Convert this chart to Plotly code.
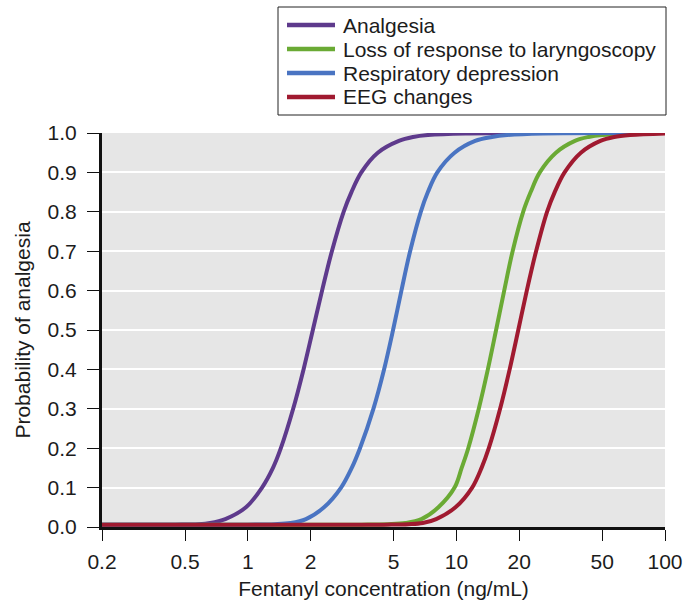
import plotly.graph_objects as go

# ---- data ----
series_names = ["Analgesia", "Loss of response to laryngoscopy",
                "Respiratory depression", "EEG changes"]

analgesia_x = [0.2, 0.45, 0.58, 0.66, 0.78, 0.98, 1.17, 1.32, 1.44, 1.65, 1.85,
               2.05, 2.27, 2.53, 2.88, 3.14, 3.5, 4.2, 5.3, 6.2, 7.3, 11, 100]
analgesia_y = [0.006, 0.006, 0.007, 0.01, 0.02, 0.05, 0.1, 0.15, 0.2, 0.3, 0.4,
               0.5, 0.6, 0.7, 0.8, 0.85, 0.9, 0.95, 0.98, 0.99, 0.995, 0.999, 1.0]

laryngoscopy_x = [0.2, 3.5, 4.7, 5.7, 6.8, 8.2, 9.8, 10.6, 11.4, 12.8, 14.15, 15.5,
                  16.95, 18.6, 20.9, 22.7, 25.1, 30, 37, 43, 50, 72, 100]
laryngoscopy_y = [0.006, 0.006, 0.007, 0.01, 0.02, 0.05, 0.1, 0.15, 0.2, 0.3, 0.4,
                  0.5, 0.6, 0.7, 0.8, 0.85, 0.9, 0.95, 0.98, 0.99, 0.995, 0.999, 1.0]

respiratory_x = [0.2, 1.0, 1.35, 1.6, 1.9, 2.32, 2.8, 3.15, 3.45, 4.0, 4.5,
                 4.97, 5.45, 6.0, 6.75, 7.3, 8.1, 9.8, 12.3, 14.8, 17.5, 26, 100]
respiratory_y = [0.006, 0.006, 0.007, 0.01, 0.02, 0.05, 0.1, 0.15, 0.2, 0.3, 0.4,
                 0.5, 0.6, 0.7, 0.8, 0.85, 0.9, 0.95, 0.98, 0.99, 0.995, 0.999, 1.0]

eeg_x = [0.2, 4.5, 5.9, 6.9, 8.0, 9.9, 11.9, 13.2, 14.3, 16.2, 18.0, 19.8, 21.75,
         24.1, 27.2, 29.6, 33, 39.5, 49, 57, 68, 100]
eeg_y = [0.006, 0.006, 0.007, 0.01, 0.02, 0.05, 0.1, 0.15, 0.2, 0.3, 0.4, 0.5,
         0.6, 0.7, 0.8, 0.85, 0.9, 0.95, 0.98, 0.99, 0.995, 0.999]

x_tick_vals = [0.2, 0.5, 1, 2, 5, 10, 20, 50, 100]
x_tick_text = ["0.2", "0.5", "1", "2", "5", "10", "20", "50", "100"]
y_tick_vals = [0.0, 0.1, 0.2, 0.3, 0.4, 0.5, 0.6, 0.7, 0.8, 0.9, 1.0]
y_tick_text = ["0.0", "0.1", "0.2", "0.3", "0.4", "0.5", "0.6", "0.7", "0.8", "0.9", "1.0"]

colors = ["#5E3A8C", "#6AAA34", "#4A74C2", "#A01A30"]

FONT = "Liberation Sans, Arial, sans-serif"
TEXT = "#1c1c1c"

fig = go.Figure()
data = [(analgesia_x, analgesia_y), (laryngoscopy_x, laryngoscopy_y),
        (respiratory_x, respiratory_y), (eeg_x, eeg_y)]
for name, (xs, ys), c in zip(series_names, data, colors):
    fig.add_trace(go.Scatter(
        x=xs, y=ys, name=name, mode="lines",
        line=dict(color=c, width=4, shape="spline", smoothing=1.0),
        cliponaxis=False, showlegend=False,
    ))

# ---- legend box drawn in paper coordinates (plot area: px 102..665, py 133..527) ----
def px(xp):
    return (xp - 102) / 563.0

def py(yp):
    return (527 - yp) / 394.0

shapes = [dict(type="rect", xref="paper", yref="paper",
               x0=px(278), x1=px(666), y0=py(115), y1=py(7),
               line=dict(color="#222", width=1), fillcolor="white", layer="above")]
annotations = []
row_y = [25, 49, 73, 97]
for name, c, ry in zip(series_names, colors, row_y):
    shapes.append(dict(type="line", xref="paper", yref="paper",
                       x0=px(287), x1=px(335), y0=py(ry), y1=py(ry),
                       line=dict(color=c, width=4.5), layer="above"))
    annotations.append(dict(text=name, xref="paper", yref="paper",
                            x=px(341), y=py(ry), xanchor="left", yanchor="middle",
                            showarrow=False,
                            font=dict(size=21, family=FONT, color=TEXT)))

fig.update_layout(
    width=686, height=603,
    margin=dict(l=102, r=21, t=133, b=76, autoexpand=False),
    paper_bgcolor="white",
    plot_bgcolor="#e6e6e6",
    font=dict(family=FONT, color=TEXT, size=20),
    showlegend=False,
    shapes=shapes,
    annotations=annotations,
    xaxis=dict(
        type="log",
        range=[-0.69897, 2.0],
        tickvals=x_tick_vals, ticktext=x_tick_text,
        showgrid=False, zeroline=False,
        showline=True, linecolor="#111", linewidth=2.5,
        ticks="outside", ticklen=11, tickwidth=1.3, tickcolor="#111",
        ticklabelstandoff=3,
        tickfont=dict(size=21, family=FONT, color=TEXT),
        title=dict(text="Fentanyl concentration (ng/mL)",
                   font=dict(size=21, family=FONT, color=TEXT), standoff=10),
        automargin=False,
    ),
    yaxis=dict(
        range=[0, 1.0],
        tickvals=y_tick_vals, ticktext=y_tick_text,
        showgrid=True, gridcolor="white", gridwidth=1.5,
        zeroline=False,
        showline=True, linecolor="#111", linewidth=3,
        ticks="outside", ticklen=12, tickwidth=1.3, tickcolor="#111",
        ticklabelstandoff=6,
        tickfont=dict(size=21, family=FONT, color=TEXT),
        title=dict(text="Probability of analgesia",
                   font=dict(size=21, family=FONT, color=TEXT), standoff=12),
        automargin=False,
    ),
)

fig.write_html("out.html")
